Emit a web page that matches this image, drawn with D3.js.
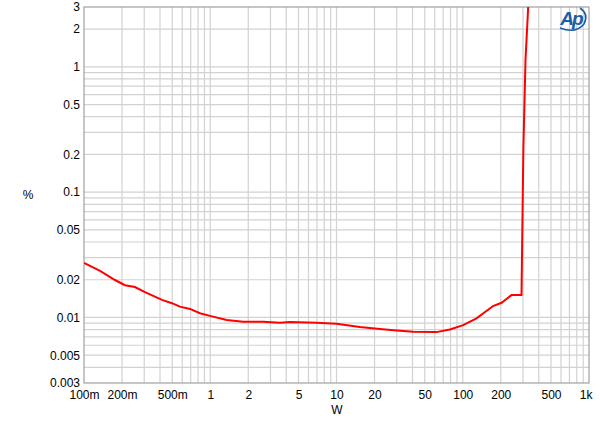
<!DOCTYPE html>
<html><head><meta charset="utf-8">
<script src="https://cdn.jsdelivr.net/npm/d3@7"></script>
<style>body{margin:0;background:#fff}svg{display:block}text{font-family:"Liberation Sans",Arial,sans-serif}</style>
</head><body>
<script>
const powerW = [0.1,0.134,0.176,0.211,0.253,0.304,0.415,0.497,0.575,0.691,0.829,0.995,1.349,1.825,2.63,3.56,4.28,6.95,10.0,15.3,22.1,29.9,40.5,62.0,79.1,100.7,128.5,174,203,243,292,302,314,332];
const thdPct = [0.0272,0.0235,0.0199,0.0181,0.0175,0.0159,0.0138,0.0130,0.0122,0.0117,0.0108,0.0103,0.00953,0.00924,0.00924,0.00907,0.00919,0.00907,0.00891,0.00838,0.00808,0.00788,0.00769,0.00764,0.00803,0.00869,0.00983,0.01233,0.0131,0.01508,0.01508,0.217,1.13,3.4];
const xTicks = [0.1,0.2,0.5,1,2,5,10,20,50,100,200,500,1000];
const xTickLabels = ["100m","200m","500m","1","2","5","10","20","50","100","200","500","1k"];
const yTicks = [3,2,1,0.5,0.2,0.1,0.05,0.02,0.01,0.005,0.003];
const yTickLabels = ["3","2","1","0.5","0.2","0.1","0.05","0.02","0.01","0.005","0.003"];

const W=600,H=427;
const m={l:84,r:11,t:7,b:44};
const svg=d3.select("body").append("svg").attr("width",W).attr("height",H);
const x=d3.scaleLog().domain([0.1,1000]).range([m.l,W-m.r]);
const y=d3.scaleLog().domain([0.003,3]).range([H-m.b,m.t]);

// grid
const xg=[];for(let d=0.1;d<1000;d*=10){for(let k=1;k<10;k++){const v=d*k; if(v>0.1*1.0001&&v<1000*0.9999) xg.push(v);}}
const yg=[];for(let d=0.001;d<3;d*=10){for(let k=1;k<10;k++){const v=d*k; if(v>0.003*1.0001&&v<3*0.9999) yg.push(v);}}
const g=svg.append("g");
g.selectAll(".gx").data(xg).join("line").attr("x1",d=>x(d)).attr("x2",d=>x(d)).attr("y1",m.t).attr("y2",H-m.b).attr("stroke","#d2d2d2").attr("stroke-width",1.2);
g.selectAll(".gy").data(yg).join("line").attr("y1",d=>y(d)).attr("y2",d=>y(d)).attr("x1",m.l).attr("x2",W-m.r).attr("stroke","#d2d2d2").attr("stroke-width",1.2);
svg.append("rect").attr("x",m.l).attr("y",m.t).attr("width",W-m.r-m.l).attr("height",H-m.b-m.t).attr("fill","none").attr("stroke","#a0a0a0").attr("stroke-width",1.2);

// axes labels
const xa=svg.append("g").attr("transform",`translate(0,${H-m.b})`).call(d3.axisBottom(x).tickValues(xTicks).tickFormat((d,i)=>xTickLabels[i]).tickSize(0).tickPadding(7));
xa.select(".domain").remove();
xa.selectAll("text").attr("font-size",12).attr("fill","#000").style("font-family","Liberation Sans, Arial, sans-serif");
xa.selectAll("text").filter((d,i)=>i===xTicks.length-1).attr("text-anchor","end").attr("dx",3);
const ya=svg.append("g").attr("transform",`translate(${m.l},0)`).call(d3.axisLeft(y).tickValues(yTicks).tickFormat((d,i)=>yTickLabels[i]).tickSize(0).tickPadding(4));
ya.select(".domain").remove();
ya.selectAll("text").attr("font-size",12).attr("fill","#000").style("font-family","Liberation Sans, Arial, sans-serif");

svg.append("text").attr("x",337).attr("y",414).attr("text-anchor","middle").attr("font-size",12).text("W");
svg.append("text").attr("x",28).attr("y",199).attr("text-anchor","middle").attr("font-size",12).text("%");

// curve
svg.append("clipPath").attr("id","c").append("rect").attr("x",m.l).attr("y",m.t).attr("width",W-m.r-m.l).attr("height",H-m.b-m.t);
const line=d3.line().x((d,i)=>x(powerW[i])).y((d,i)=>y(thdPct[i]));
svg.append("path").datum(thdPct).attr("d",line).attr("fill","none").attr("stroke","#ff0000").attr("stroke-width",2).attr("clip-path","url(#c)");

// logo
const lg=svg.append("g").attr("transform","translate(572,18)");
lg.append("text").attr("x",-1).attr("y",7).attr("text-anchor","middle").attr("font-size",19).attr("font-style","italic").attr("font-weight","bold").attr("fill","#1e5ba8").attr("letter-spacing",-2).text("Ap");
lg.append("path").attr("d","M-12,10 Q4,16 12,6 Q17,-4 8,-10").attr("fill","none").attr("stroke","#1e5ba8").attr("stroke-width",1.6);
</script>
</body></html>
